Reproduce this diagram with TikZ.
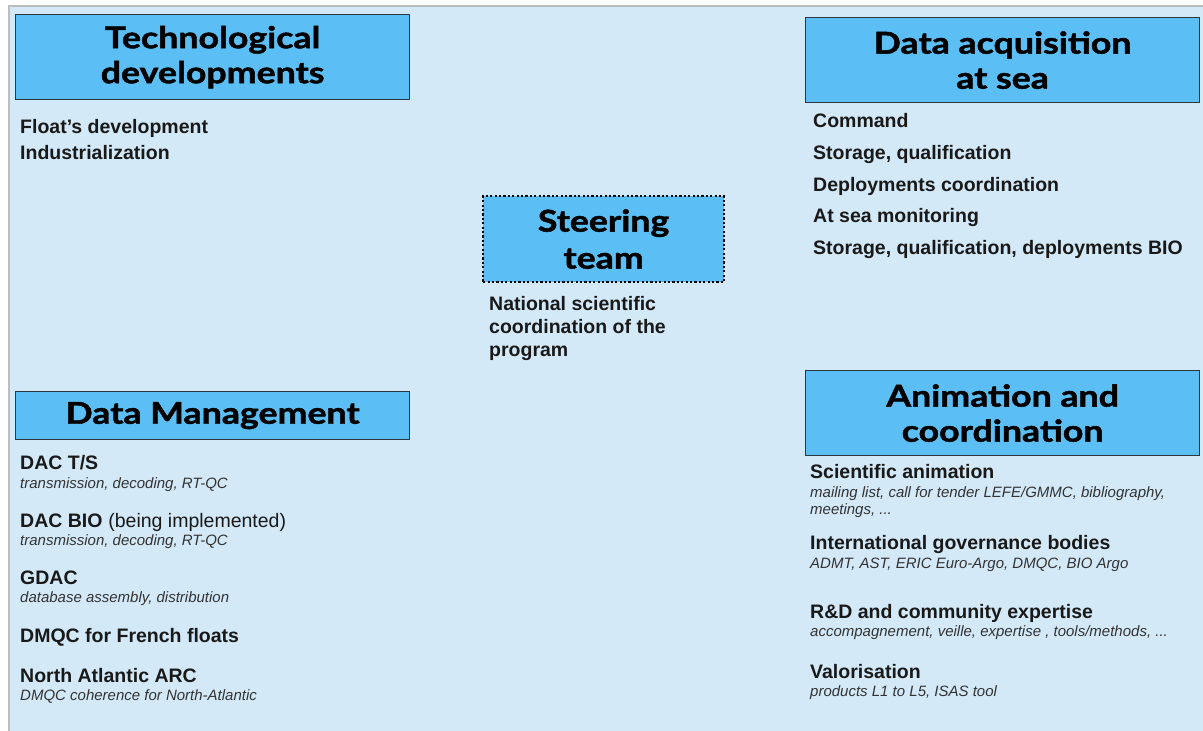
\documentclass[tikz,border=0pt]{standalone}
\usepackage{fontspec}
\setmainfont{Liberation Sans}
\newfontfamily\headfont{Lato}[FakeStretch=1.19, FakeBold=1.6]
\definecolor{panelblue}{HTML}{D3E9F8}
\definecolor{panelline}{HTML}{BDBDBD}
\definecolor{boxblue}{HTML}{5BBFF5}
\definecolor{boxline}{HTML}{2B3742}
\definecolor{notegray}{HTML}{333333}
\tikzset{
  headbox/.style={draw=boxline, fill=boxblue, line width=1.2pt, inner sep=0pt,
    align=center, anchor=north west, text=black,
    font=\headfont\bfseries\fontsize{30}{35}\selectfont},
  item/.style={anchor=base west, inner sep=0pt, text=black!90,
    font=\bfseries\fontsize{19.5}{23}\selectfont},
  plain/.style={anchor=base west, inner sep=0pt, text=black!90,
    font=\fontsize{19.5}{23}\selectfont},
  note/.style={anchor=base west, inner sep=0pt, text=notegray,
    font=\itshape\fontsize{15}{17}\selectfont},
}
\begin{document}
\begin{tikzpicture}[x=1pt,y=-1pt]
\useasboundingbox (0,0) rectangle (1203,731);
% background panel
\fill[white] (0,0) rectangle (1203,731);
\fill[panelblue] (9,6) rectangle (1203,731);
\draw[panelline, line width=2pt] (9,731) -- (9,6) -- (1203,6);

% section headings
\node[headbox, minimum width=394pt, minimum height=85pt] (tech) at (15,14)
  {Technological\\developments};
\node[headbox, minimum width=394pt, minimum height=85pt] (acq) at (805,17)
  {Data acquisition\\at sea};
\node[headbox, minimum width=394pt, minimum height=48pt] (dm) at (15,391)
  {Data Management};
\node[headbox, minimum width=394pt, minimum height=85pt] (anim) at (805,370)
  {Animation and\\coordination};
\node[headbox, draw=black, line width=2.2pt, dash pattern=on 2.2pt off 2.2pt,
  minimum width=241pt, minimum height=86pt,
  font=\headfont\bfseries\fontsize{30}{37}\selectfont] (steer) at (482,195)
  {Steering\\team};

% technological developments
\node[item] (t1) at (20,133) {Float’s development};
\node[item] (t2) at (20,159) {Industrialization};

% data acquisition at sea
\node[item] (a1) at (813,127) {Command};
\node[item] (a2) at (813,159) {Storage, qualification};
\node[item] (a3) at (813,191) {Deployments coordination};
\node[item] (a4) at (813,222) {At sea monitoring};
\node[item] (a5) at (813,254) {Storage, qualification, deployments BIO};

% steering team
\node[item] (s1) at (489,310) {National scientific};
\node[item] (s2) at (489,333) {coordination of the};
\node[item] (s3) at (489,356) {program};

% data management
\node[item] (d1) at (20,469) {DAC T/S};
\node[note] (d1n) at (20,488) {transmission, decoding, RT-QC};
\node[item] (d2) at (20,527) {DAC BIO};
\node[plain, anchor=base west] (d2b) at (d2.base east) {\ (being implemented)};
\node[note] (d2n) at (20,545) {transmission, decoding, RT-QC};
\node[item] (d3) at (20,584) {GDAC};
\node[note] (d3n) at (20,602) {database assembly, distribution};
\node[item] (d4) at (20,642) {DMQC for French floats};
\node[item] (d5) at (20,682) {North Atlantic ARC};
\node[note] (d5n) at (20,700) {DMQC coherence for North-Atlantic};

% animation and coordination
\node[item] (c1) at (810,478) {Scientific animation};
\node[note] (c1n) at (810,497) {mailing list, call for tender LEFE/GMMC, bibliography,};
\node[note] (c1m) at (810,514) {meetings, ...};
\node[item] (c2) at (810,549) {International governance bodies};
\node[note] (c2n) at (810,568) {ADMT, AST, ERIC Euro-Argo, DMQC, BIO Argo};
\node[item] (c3) at (810,618) {R\&D and community expertise};
\node[note] (c3n) at (810,636) {accompagnement, veille, expertise , tools/methods, ...};
\node[item] (c4) at (810,678) {Valorisation};
\node[note] (c4n) at (810,696) {products L1 to L5, ISAS tool};
\end{tikzpicture}
\end{document}
